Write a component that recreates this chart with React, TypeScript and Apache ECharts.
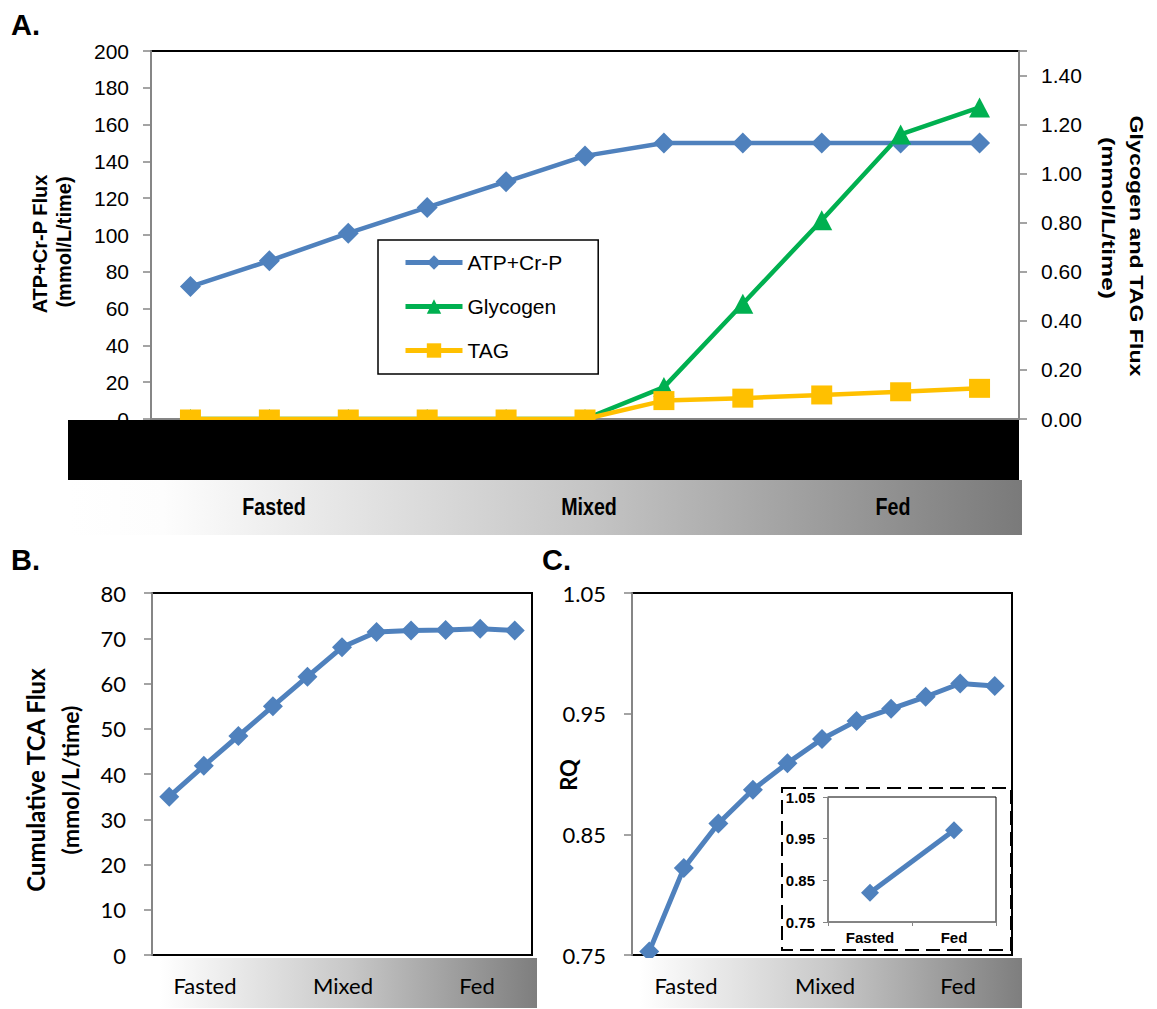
import React, { useEffect, useRef } from "react";
import * as echarts from "echarts";

const categories = ["1", "2", "3", "4", "5", "6", "7", "8", "9", "10", "11"];
const atpValues = [72, 86, 101, 115, 129, 143, 150, 150, 150, 150, 150];
const glycogenValues = [0, 0, 0, 0, 0, 0, 0.13, 0.47, 0.81, 1.16, 1.27];
const tagValues = [0, 0, 0, 0, 0, 0, 0.075, 0.085, 0.098, 0.111, 0.125];
const tcaValues = [35, 41.8, 48.4, 55, 61.5, 68, 71.4, 71.7, 71.8, 72.1, 71.7];
const rqValues = [0.753, 0.822, 0.859, 0.887, 0.909, 0.929, 0.944, 0.954, 0.964, 0.975, 0.973];
const insetCategories = ["Fasted", "Fed"];
const insetValues = [0.82, 0.97];
const stateLabels = ["Fasted", "Mixed", "Fed"];

const BLUE = "#4F81BD";
const GREEN = "#00B050";
const YELLOW = "#FFC000";
const GRAY = "#868686";
const ARIAL = "'Liberation Sans', Arial, sans-serif";
const CAL = "Lato, 'Open Sans', sans-serif";

export default function App() {
  const ref = useRef<HTMLDivElement>(null);
  useEffect(() => {
    document.body.style.margin = "0";
    if (!ref.current) return;
    const chart = echarts.init(ref.current, null, { renderer: "svg" });

    const yBase = (gridIndex: number, min: number, max: number, interval: number, fontFamily: string, fontSize: number, margin: number, extra: any = {}) => ({
      type: "value",
      gridIndex,
      min,
      max,
      interval,
      splitLine: { show: false },
      axisLine: { show: true, lineStyle: { color: GRAY, width: 2 } },
      axisTick: { show: true, inside: false, length: 8, lineStyle: { color: GRAY, width: 1.5 } },
      axisLabel: { color: "#000", fontFamily, fontSize, margin },
      ...extra,
    });

    const xHidden = (gridIndex: number, data: string[]) => ({
      type: "category",
      gridIndex,
      data,
      boundaryGap: true,
      axisLine: { show: false },
      axisTick: { show: false },
      axisLabel: { show: false },
      splitLine: { show: false },
    });

    const stateText = (cx: number[], y: number, font: any, scaleX = 1) =>
      stateLabels.map((t, i) => ({
        type: "text",
        x: cx[i],
        y,
        scaleX,
        z: 110,
        style: { text: t, align: "center", verticalAlign: "middle", fill: "#000", ...font },
      }));

    const gradient = (stops: [number, string][]) => ({
      type: "linear",
      x: 0,
      y: 0,
      x2: 1,
      y2: 0,
      colorStops: stops.map(([offset, color]) => ({ offset, color })),
    });

    const option: any = {
      animation: false,
      backgroundColor: "#fff",
      grid: [
        { left: 151, top: 51, width: 868, height: 368, show: true, borderColor: "#000", borderWidth: 2, backgroundColor: "transparent" },
        { left: 152, top: 593, width: 380, height: 362, show: true, borderColor: "#000", borderWidth: 2, backgroundColor: "transparent" },
        { left: 632, top: 593, width: 380, height: 362, show: true, borderColor: "#000", borderWidth: 2, backgroundColor: "transparent" },
        { left: 828, top: 797, width: 168, height: 125, show: true, borderColor: "#000", borderWidth: 1, backgroundColor: "transparent" },
      ],
      legend: {
        data: ["ATP+Cr-P", "Glycogen", "TAG"],
        orient: "vertical",
        left: 378,
        top: 240,
        padding: [12, 36, 13, 25],
        itemWidth: 57,
        itemHeight: 18,
        itemGap: 23,
        borderColor: "#000",
        borderWidth: 1.5,
        backgroundColor: "#fff",
        lineStyle: { width: 5, color: "inherit" },
        textStyle: { fontFamily: ARIAL, fontSize: 21, color: "#000" },
      },
      xAxis: [
        { ...xHidden(0, categories), axisLine: { show: true, lineStyle: { color: GRAY, width: 2 } } },
        xHidden(1, categories),
        xHidden(2, categories),
        {
          type: "category",
          gridIndex: 3,
          data: insetCategories,
          boundaryGap: true,
          axisLine: { show: true, lineStyle: { color: GRAY, width: 1.5 } },
          axisTick: { show: true, length: 4, lineStyle: { color: GRAY } },
          axisLabel: { color: "#000", fontFamily: ARIAL, fontWeight: "bold", fontSize: 15, margin: 8 },
          splitLine: { show: false },
        },
      ],
      yAxis: [
        yBase(0, 0, 200, 20, ARIAL, 21, 22),
        yBase(0, 0, 1.5, 0.2, ARIAL, 21, 22, {
          position: "right",
          axisLabel: {
            color: "#000",
            fontFamily: ARIAL,
            fontSize: 21,
            margin: 22,
            formatter: (v: number) => (v > 1.45 ? "" : v.toFixed(2)),
          },
        }),
        yBase(1, 0, 80, 10, CAL, 22, 26),
        yBase(2, 0.75, 1.05, 0.1, CAL, 22, 26, {
          axisLabel: { color: "#000", fontFamily: CAL, fontSize: 22, margin: 26, formatter: (v: number) => v.toFixed(2) },
        }),
        yBase(3, 0.75, 1.05, 0.1, ARIAL, 14, 15, {
          axisTick: { show: true, length: 5, lineStyle: { color: GRAY, width: 1 } },
          axisLine: { show: true, lineStyle: { color: GRAY, width: 1.5 } },
          axisLabel: { color: "#000", fontFamily: ARIAL, fontWeight: "bold", fontSize: 15, margin: 13, formatter: (v: number) => v.toFixed(2) },
        }),
      ],
      series: [
        {
          name: "ATP+Cr-P",
          type: "line",
          xAxisIndex: 0,
          yAxisIndex: 0,
          data: atpValues,
          symbol: "diamond",
          symbolSize: 21,
          clip: false,
          lineStyle: { color: BLUE, width: 4.5 },
          itemStyle: { color: BLUE },
        },
        {
          name: "Glycogen",
          type: "line",
          xAxisIndex: 0,
          yAxisIndex: 1,
          data: glycogenValues,
          symbol: "triangle",
          symbolSize: [21, 20],
          clip: false,
          lineStyle: { color: GREEN, width: 4.5 },
          itemStyle: { color: GREEN },
        },
        {
          name: "TAG",
          type: "line",
          xAxisIndex: 0,
          yAxisIndex: 1,
          data: tagValues,
          symbol: "rect",
          symbolSize: [21, 19],
          clip: false,
          lineStyle: { color: YELLOW, width: 4.5 },
          itemStyle: { color: YELLOW },
        },
        {
          name: "TCA",
          type: "line",
          xAxisIndex: 1,
          yAxisIndex: 2,
          data: tcaValues,
          symbol: "diamond",
          symbolSize: 20,
          clip: false,
          lineStyle: { color: BLUE, width: 5 },
          itemStyle: { color: BLUE },
        },
        {
          name: "RQ",
          type: "line",
          xAxisIndex: 2,
          yAxisIndex: 3,
          data: rqValues,
          symbol: "diamond",
          symbolSize: 20,
          clip: false,
          lineStyle: { color: BLUE, width: 5 },
          itemStyle: { color: BLUE },
        },
        {
          name: "RQ inset",
          type: "line",
          xAxisIndex: 3,
          yAxisIndex: 4,
          data: insetValues,
          symbol: "diamond",
          symbolSize: 18,
          clip: false,
          lineStyle: { color: BLUE, width: 5 },
          itemStyle: { color: BLUE },
        },
      ],
      graphic: [
        { type: "text", x: 11, y: 10, z: 110, style: { text: "A.", fontFamily: ARIAL, fontWeight: "bold", fontSize: 29, fill: "#000" } },
        { type: "text", x: 11, y: 545, z: 110, style: { text: "B.", fontFamily: ARIAL, fontWeight: "bold", fontSize: 29, fill: "#000" } },
        { type: "text", x: 542, y: 545, z: 110, style: { text: "C.", fontFamily: ARIAL, fontWeight: "bold", fontSize: 29, fill: "#000" } },
        { type: "text", x: 40, y: 244, rotation: Math.PI / 2, z: 110, style: { text: "ATP+Cr-P Flux", align: "center", verticalAlign: "middle", fontFamily: ARIAL, fontWeight: "bold", fontSize: 20, fill: "#000" } },
        { type: "text", x: 64, y: 242, rotation: Math.PI / 2, z: 110, style: { text: "(mmol/L/time)", align: "center", verticalAlign: "middle", fontFamily: ARIAL, fontWeight: "bold", fontSize: 20, fill: "#000" } },
        { type: "text", x: 1137, y: 246, rotation: -Math.PI / 2, scaleX: 1.22, z: 110, style: { text: "Glycogen and TAG Flux", align: "center", verticalAlign: "middle", fontFamily: ARIAL, fontWeight: "bold", fontSize: 19, fill: "#000" } },
        { type: "text", x: 1108, y: 218, rotation: -Math.PI / 2, scaleX: 1.3, z: 110, style: { text: "(mmol/L/time)", align: "center", verticalAlign: "middle", fontFamily: ARIAL, fontWeight: "bold", fontSize: 19, fill: "#000" } },
        { type: "text", x: 35, y: 780, rotation: Math.PI / 2, z: 110, style: { text: "Cumulative TCA Flux", align: "center", verticalAlign: "middle", fontFamily: CAL, fontWeight: "bold", fontSize: 24, fill: "#000" } },
        { type: "text", x: 70, y: 780, rotation: Math.PI / 2, z: 110, style: { text: "(mmol/L/time)", align: "center", verticalAlign: "middle", fontFamily: CAL, fontWeight: "bold", fontSize: 23, fill: "#000" } },
        { type: "text", x: 568, y: 775, rotation: Math.PI / 2, z: 110, style: { text: "RQ", align: "center", verticalAlign: "middle", fontFamily: CAL, fontWeight: "bold", fontSize: 22, fill: "#000" } },
        { type: "rect", z: 100, shape: { x: 68, y: 420, width: 951, height: 60 }, style: { fill: "#000" } },
        { type: "rect", z: 100, shape: { x: 68, y: 480, width: 954, height: 55 }, style: { fill: gradient([[0, "#ffffff"], [0.1, "#fdfdfd"], [0.55, "#c4c4c4"], [1, "#7a7a7a"]]) } },
        ...stateText([274, 589, 893], 507, { fontFamily: ARIAL, fontWeight: "bold", fontSize: 24 }, 0.82),
        { type: "rect", z: 100, shape: { x: 160, y: 958, width: 377, height: 50 }, style: { fill: gradient([[0, "#ffffff"], [0.5, "#c8c8c8"], [1, "#7e7e7e"]]) } },
        ...stateText([205, 343, 477], 985, { fontFamily: CAL, fontSize: 22 }),
        { type: "rect", z: 100, shape: { x: 640, y: 958, width: 382, height: 50 }, style: { fill: gradient([[0, "#ffffff"], [0.5, "#c8c8c8"], [1, "#7e7e7e"]]) } },
        ...stateText([686, 825, 958], 985, { fontFamily: CAL, fontSize: 22 }),
        { type: "rect", z: 100, shape: { x: 782, y: 788, width: 229, height: 162 }, style: { fill: "transparent", stroke: "#000", lineWidth: 2, lineDash: [14, 7] } },
      ],
    };
    chart.setOption(option);
    return () => chart.dispose();
  }, []);
  return <div ref={ref} style={{ width: 1157, height: 1009 }} />;
}
